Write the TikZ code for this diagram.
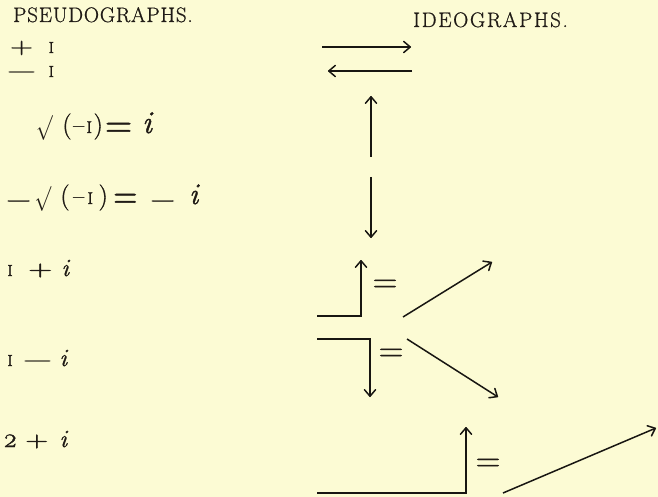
\documentclass[tikz,border=0pt]{standalone}
\usepackage{amsmath}
\usepackage{graphicx}
\usepackage{fontspec}
\usetikzlibrary{arrows.meta}
\definecolor{paper}{RGB}{252,251,212}
\definecolor{ink}{RGB}{32,27,22}
\definecolor{pen}{RGB}{24,22,18}
\newfontfamily\headfont{Latin Modern Roman}[LetterSpace=4, FakeBold=0.8]
\newfontfamily\headfontw{Latin Modern Roman}[LetterSpace=8, FakeBold=0.8]
\newfontfamily\pf{Latin Modern Roman}[FakeBold=1.3]
\newfontfamily\ef{Latin Modern Roman}[FakeBold=0.3]
% glyph placed at an offset (pt) from the node's left edge
\newcommand{\gl}[2]{\makebox[0pt][l]{\hspace*{#1pt}#2}}
\newcommand{\sz}[1]{\fontsize{#1}{#1}\selectfont}
\newcommand{\Gplus}[2]{\scalebox{#1}[#2]{+}}
\newcommand{\Gminus}[1]{\scalebox{#1}[1]{−}}
\newcommand{\Geq}[2]{\scalebox{#1}[#2]{=}}
\newcommand{\Gsurd}{\scalebox{0.8}[1]{$\surd$}}
\newcommand{\Gi}[1]{{\sz{#1}\itshape i}}
\newcommand{\GI}[1]{{\sz{#1}I}}
\newcommand{\Gp}[1]{{\sz{26}#1}}
\tikzset{
  lbl/.style={inner sep=0pt, anchor=base west, text=ink, font=\pf\fontsize{24}{26}\selectfont},
  head/.style={inner sep=0pt, anchor=base west, text=ink, font=\headfont\fontsize{21}{24}\selectfont},
  headw/.style={head, font=\headfontw\fontsize{21}{24}\selectfont},
  eqs/.style={inner sep=0pt, text=ink, font=\ef\fontsize{35}{40}\selectfont},
  arr/.style={draw=pen, line width=1.5pt, -{Straight Barb[length=6.5pt,width=11pt,round]}},
}
\begin{document}
\begin{tikzpicture}[x=1pt,y=-1pt]
\fill[paper] (0,0) rectangle (658,497);
\useasboundingbox (0,0) rectangle (658,497);
% headings
\node[head] (hp) at (13,22) {PSEUDOGRAPHS.};
\node[headw] (hi) at (413,27) {IDEOGRAPHS.};
% pseudographs
\node[lbl] (p1) at (10,53) {\sz{20}\gl{0}{\raisebox{-0.6pt}{\Gplus{1.58}{1.13}}}\gl{38.5}{\GI{16}}\hspace*{46pt}};
\node[lbl] (p2) at (6.7,77) {\sz{20}\gl{0}{\Gminus{2.03}}\gl{41.8}{\GI{16}}\hspace*{49pt}};
\node[lbl] (p3) at (36,133) {\gl{0}{\raisebox{-1pt}{\Gsurd}}\gl{26.2}{\Gp{(}}\gl{37}{–}\gl{50.3}{\GI{17}}\gl{57.4}{\Gp{)}}%
  \gl{68.9}{\raisebox{-4.5pt}{\Geq{1.56}{1.7}}}\gl{106}{\Gi{32}}\hspace*{120pt}};
\node[lbl] (p4) at (6,204) {\gl{0}{\raisebox{-3pt}{\Gminus{1.44}}}\gl{28.5}{\raisebox{-1pt}{\Gsurd}}\gl{54.2}{\Gp{(}}\gl{67}{–}\gl{81.3}{\GI{17}}\gl{92.4}{\Gp{)}}%
  \gl{107.2}{\raisebox{-4.5pt}{\Geq{1.38}{1.7}}}\gl{144.1}{\raisebox{-3pt}{\Gminus{1.44}}}\gl{183}{\Gi{30}}\hspace*{195pt}};
\node[lbl] (p5) at (6,276) {\gl{1.2}{\GI{16}}\gl{22.2}{\sz{20}\Gplus{1.65}{1.1}}\gl{55.3}{\Gi{25}}\hspace*{66pt}};
\node[lbl] (p6) at (6,366) {\gl{1.2}{\GI{16}}\gl{16.7}{\sz{20}\Gminus{2.03}}\gl{53.3}{\Gi{25}}\hspace*{64pt}};
\node[lbl] (p7) at (2,447) {\gl{1}{\sz{27}\oldstylenums{2}}\gl{23.2}{\sz{20}\Gplus{1.58}{1.1}}\gl{57.3}{\Gi{25}}\hspace*{68pt}};
% ideograph coordinates
\coordinate (r1s) at (322,47);  \coordinate (r1e) at (411,47);
\coordinate (l1s) at (412,71);  \coordinate (l1e) at (328,71);
\coordinate (u1s) at (371,157); \coordinate (u1e) at (371,96);
\coordinate (d1s) at (371,177); \coordinate (d1e) at (371,238);
\coordinate (a1) at (317,316);  \coordinate (a3) at (361,260);
\coordinate (b1) at (403,317);  \coordinate (b2) at (492,262);
\coordinate (c1) at (317,339);  \coordinate (c3) at (370,397);
\coordinate (e1) at (407,339);  \coordinate (e2) at (498,397);
\coordinate (f1) at (317,493);  \coordinate (f3) at (466,427);
\coordinate (g1) at (503,493);  \coordinate (g2) at (656,428);
% arrows
\draw[arr] (r1s) -- (r1e);
\draw[arr] (l1s) -- (l1e);
\draw[arr] (u1s) -- (u1e);
\draw[arr] (d1s) -- (d1e);
\draw[arr] (a1) -| (a3);
\draw[arr] (b1) -- (b2);
\draw[arr] (c1) -| (c3);
\draw[arr] (e1) -- (e2);
\draw[arr] (f1) -| (f3);
\draw[arr] (g1) -- (g2);
% equals signs
\node[eqs] (q1) at (385,286) {=};
\node[eqs] (q2) at (391,355) {=};
\node[eqs] (q3) at (488,465) {=};
\end{tikzpicture}
\end{document}
